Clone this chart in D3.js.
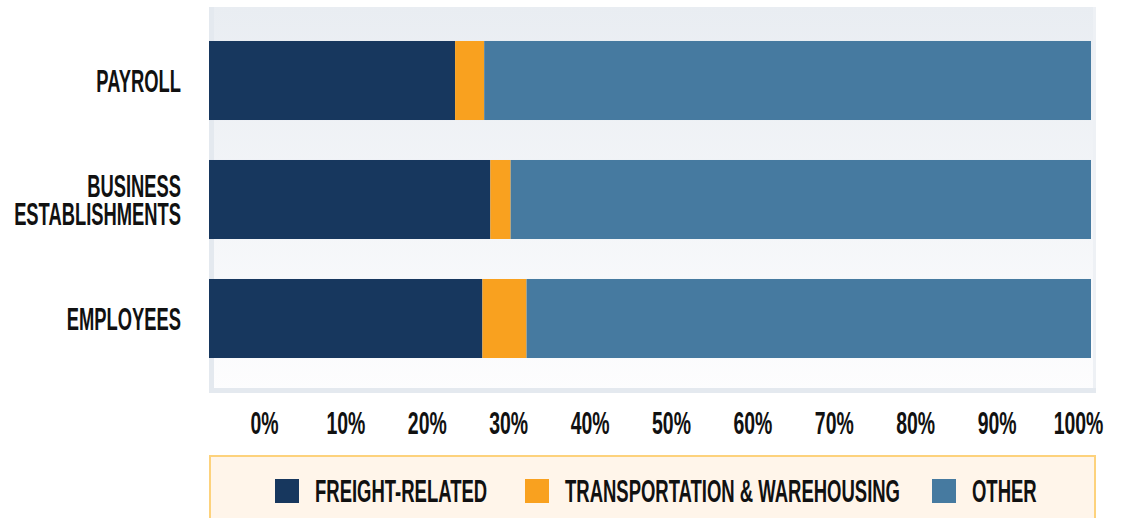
<!DOCTYPE html>
<html>
<head>
<meta charset="utf-8">
<script src="https://cdn.jsdelivr.net/npm/d3@7"></script>
<style>
  body { margin: 0; background: #fff; }
  svg { display: block; }
  text { font-family: "Liberation Sans", "Roboto", sans-serif; font-weight: bold; fill: #111; }
</style>
</head>
<body>
<div id="chart"></div>
<script>
const width = 1124;
const height = 518;

// data (percent of total)
const categories = ["PAYROLL", "BUSINESS ESTABLISHMENTS", "EMPLOYEES"];
const seriesNames = ["FREIGHT-RELATED", "TRANSPORTATION & WAREHOUSING", "OTHER"];
const freightRelated = [27.9, 31.9, 31.0];
const transportation = [3.3, 2.3, 5.0];
const other = [68.8, 65.8, 64.0];
const tickValues = [0, 10, 20, 30, 40, 50, 60, 70, 80, 90, 100];
const tickLabels = ["0%", "10%", "20%", "30%", "40%", "50%", "60%", "70%", "80%", "90%", "100%"];

const colors = ["#17375e", "#f9a11f", "#467aa0"];

const svg = d3.select("#chart")
  .append("svg")
  .attr("width", width)
  .attr("height", height);

// table for the stack
const table = categories.map((c, i) => ({
  cat: c,
  [seriesNames[0]]: freightRelated[i],
  [seriesNames[1]]: transportation[i],
  [seriesNames[2]]: other[i]
}));

const x = d3.scaleLinear().domain([0, 100]).range([209, 1091]);
const y = d3.scaleBand().domain(categories).range([21, 378]).paddingInner(0.336).paddingOuter(0.168);
// tick labels sit on their own spacing in the source
const xAxisScale = d3.scaleLinear().domain([0, 100]).range([264, 1078]);
const color = d3.scaleOrdinal().domain(seriesNames).range(colors);

// panel background
const defs = svg.append("defs");
const grad = defs.append("linearGradient")
  .attr("id", "panelGrad")
  .attr("x1", 0).attr("x2", 0).attr("y1", 0).attr("y2", 1);
grad.append("stop").attr("offset", "0%").attr("stop-color", "#e9edf2");
grad.append("stop").attr("offset", "100%").attr("stop-color", "#fdfdfe");

svg.append("rect")
  .attr("x", 209).attr("y", 7)
  .attr("width", 887).attr("height", 386)
  .attr("fill", "url(#panelGrad)");
svg.append("rect")
  .attr("x", 209).attr("y", 7)
  .attr("width", 5).attr("height", 386)
  .attr("fill", "#e4e9ef");
svg.append("rect")
  .attr("x", 1093).attr("y", 7)
  .attr("width", 3).attr("height", 386)
  .attr("fill", "#eef1f5");
svg.append("rect")
  .attr("x", 209).attr("y", 388)
  .attr("width", 887).attr("height", 5)
  .attr("fill", "#e4e9ef");

// bars
const stacked = d3.stack().keys(seriesNames)(table);

svg.append("g")
  .selectAll("g")
  .data(stacked)
  .join("g")
  .attr("fill", (d) => color(d.key))
  .selectAll("rect")
  .data((d) => d)
  .join("rect")
  .attr("x", (d) => x(d[0]))
  .attr("y", (d) => y(d.data.cat))
  .attr("width", (d) => x(d[1]) - x(d[0]))
  .attr("height", y.bandwidth());

// measure the font so the text can be squeezed to the condensed look
const probe = svg.append("text").attr("font-size", 32).text("PAYROLL");
const sx = 83 / probe.node().getComputedTextLength();
probe.remove();

// category labels (one text per category, wrapped lines as tspans)
const catLabels = svg.append("g")
  .selectAll("text")
  .data(categories)
  .join("text")
  .attr("transform", (c) => {
    const lines = c === "BUSINESS ESTABLISHMENTS" ? 2 : 1;
    const cy = y(c) + y.bandwidth() / 2 - (lines - 1) * 14 + 11.5;
    return `translate(181,${cy}) scale(${sx * 1.02},1)`;
  })
  .attr("text-anchor", "end")
  .attr("font-size", 32);
catLabels.each(function (c) {
  const words = c === "BUSINESS ESTABLISHMENTS" ? ["BUSINESS", "ESTABLISHMENTS"] : [c];
  d3.select(this).selectAll("tspan")
    .data(words)
    .join("tspan")
    .attr("x", 0)
    .attr("y", (w, j) => j * 28)
    .text((w) => w);
});

// x axis labels
const axisG = svg.append("g")
  .attr("transform", "translate(0,434)")
  .call(d3.axisBottom(xAxisScale).tickValues(tickValues).tickFormat((d, i) => tickLabels[i]).tickSize(0).tickPadding(0));
axisG.select(".domain").remove();
axisG.attr("font-family", null).attr("font-size", null);
axisG.selectAll("text")
  .attr("font-size", 32)
  .attr("fill", "#111")
  .attr("dy", 0)
  .attr("y", 0)
  .attr("transform", `scale(${sx * 1.08},1)`);

// legend
svg.append("rect")
  .attr("x", 210).attr("y", 456)
  .attr("width", 885).attr("height", 70)
  .attr("fill", "#fff5ea")
  .attr("stroke", "#fdd27c")
  .attr("stroke-width", 2);

const legendX = [275, 525, 932];
const legend = svg.append("g")
  .selectAll("g")
  .data(seriesNames)
  .join("g")
  .attr("transform", (d, i) => `translate(${legendX[i]},479)`);
legend.append("rect")
  .attr("width", 24).attr("height", 24)
  .attr("fill", (d) => color(d));
legend.append("text")
  .attr("transform", `translate(40,23) scale(${sx * 1.06},1)`)
  .attr("font-size", 31)
  .text((d) => d);
</script>
</body>
</html>
